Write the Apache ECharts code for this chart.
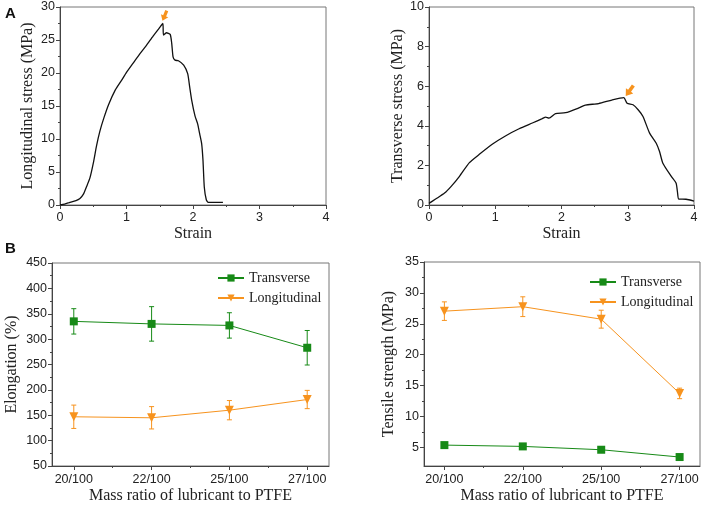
<!DOCTYPE html>
<html><head><meta charset="utf-8">
<script src="https://cdn.jsdelivr.net/npm/echarts@6/dist/echarts.min.js"></script>
<style>html,body{margin:0;padding:0;background:#fff}#c{width:703px;height:505px}</style>
</head><body><div id="c"></div>
<script>
// ---- Data ----
const longStrain = [0,0.07,0.14,0.24,0.30,0.35,0.40,0.45,0.50,0.55,0.60,0.66,0.73,0.83,0.92,1.0,1.1,1.2,1.3,1.4,1.5,1.547,1.556,1.6,1.657,1.68,1.70,1.73,1.78,1.86,1.92,1.95,1.98,2.03,2.07,2.10,2.13,2.15,2.17,2.20,2.23,2.45];
const longStress = [0,0.15,0.36,0.66,1.0,1.6,2.8,4.1,6.3,9.0,11.2,13.2,15.2,17.4,18.8,20.1,21.5,22.9,24.2,25.6,26.9,27.5,25.75,26.1,25.85,24.5,22.45,21.95,21.85,21.2,19.9,17.9,15.9,13.5,12.3,10.8,9.3,6.8,2.7,0.8,0.4,0.4];
const transStrain = [0,0.1,0.235,0.335,0.46,0.61,0.76,0.96,1.16,1.36,1.56,1.71,1.76,1.81,1.91,2.06,2.26,2.36,2.56,2.76,2.94,2.99,3.08,3.16,3.23,3.33,3.43,3.48,3.53,3.66,3.73,3.75,3.77,3.88,4.0];
const transStress = [0.08,0.3,0.6,0.94,1.45,2.14,2.56,3.08,3.5,3.85,4.14,4.36,4.44,4.39,4.62,4.66,4.9,5.05,5.12,5.3,5.42,5.14,5.06,4.8,4.47,3.63,3.12,2.7,2.11,1.43,1.1,0.67,0.3,0.29,0.2];
const longPeak = [1.54, 27.9];
const transPeak = [2.97, 5.5];

const categories = ['20/100','22/100','25/100','27/100'];
const elongTrans = [335,330,327,283];
const elongTransErr = [25,34,25,34];
const elongLong = [147,145,160,181];
const elongLongErr = [23,22,19,18];
const tensTrans = [5.38,5.17,4.63,3.45];
const tensTransErr = [0.4,0.4,0.3,0.2];
const tensLong = [27.05,27.77,25.75,13.74];
const tensLongErr = [1.5,1.6,1.45,0.85];
const tensTicks = [5,10,15,20,25,30,35];
const tensMinorTicks = [7.5,12.5,17.5,22.5,27.5,32.5];
const catTicks = [0,1,2,3];
const catMinorTicks = [0.5,1.5,2.5];

// ---- Style ----
const SANS = 'Liberation Sans', SERIF = 'Liberation Serif';
const GREEN = '#178a17', ORANGE = '#f7931e', AXIS = '#444', FRAME = '#777';
const ARROW = 'path://M3,0 L7,0 L7,6 L10,6 L5,12 L0,6 L3,6 Z';

function pairs(xs, ys){ return xs.map((x,i)=>[x, ys[i]]); }
function idx(ys){ return ys.map((y,i)=>[i, y]); }
function errData(ys, es){ return ys.map((y,i)=>[i, y-es[i], y+es[i]]); }

const baseAxisLabel = {fontFamily: SANS, fontSize: 12.5, color: '#222'};
const nameStyle = {fontFamily: SERIF, fontSize: 16, color: '#222'};
const axisLine = {show: true, onZero: false, lineStyle: {color: AXIS, width: 1}};
const noLine = {show: false, onZero: false};

function valX(gi, min, max, interval, name){
  return {type:'value', gridIndex: gi, min, max, interval, name, nameLocation:'middle', nameGap: 21, nameTextStyle: nameStyle,
    axisLine, axisTick:{show:true, inside:false, length:4, lineStyle:{color:AXIS}},
    minorTick:{show:true, splitNumber:2, length:2, lineStyle:{color:AXIS}},
    axisLabel:{...baseAxisLabel, margin:6}, splitLine:{show:false}};
}
function valY(gi, min, max, interval, name, gap){
  return {type:'value', gridIndex: gi, min, max, interval, name, nameLocation:'middle', nameGap: gap, nameTextStyle: nameStyle,
    axisLine, axisTick:{show:true, inside:false, length:4, lineStyle:{color:AXIS}},
    minorTick:{show:true, splitNumber:2, length:2, lineStyle:{color:AXIS}},
    axisLabel:{...baseAxisLabel, margin:5}, splitLine:{show:false}};
}
function catX(gi, min, max, name){
  return [{type:'value', gridIndex: gi, min, max, name, nameLocation:'middle', nameGap: 22, nameTextStyle: nameStyle,
    axisLine, axisTick:{show:true, length:4, customValues: catTicks, lineStyle:{color:AXIS}},
    axisLabel:{...baseAxisLabel, margin:7, customValues: catTicks, formatter: v => categories[Math.round(v)]},
    splitLine:{show:false}},
   {type:'value', gridIndex: gi, min, max, position:'bottom', axisLine: noLine,
    axisTick:{show:true, length:2, customValues: catMinorTicks, lineStyle:{color:AXIS}},
    axisLabel:{show:false}, splitLine:{show:false}}];
}

function errSeries(name, xi, yi, data, color){
  return {type:'custom', name, xAxisIndex: xi, yAxisIndex: yi, data, z: 1, silent: true,
    renderItem: (params, api) => {
      const lo = api.coord([api.value(0), api.value(1)]);
      const hi = api.coord([api.value(0), api.value(2)]);
      const w = 2.5;
      const st = {stroke: color, lineWidth: 1};
      return {type:'group', children:[
        {type:'line', shape:{x1:lo[0], y1:lo[1], x2:hi[0], y2:hi[1]}, style: st},
        {type:'line', shape:{x1:lo[0]-w, y1:lo[1], x2:lo[0]+w, y2:lo[1]}, style: st},
        {type:'line', shape:{x1:hi[0]-w, y1:hi[1], x2:hi[0]+w, y2:hi[1]}, style: st}
      ]};
    }};
}

const legendText = {fontFamily: SERIF, fontSize: 14, color:'#222'};

const option = {
  animation: false,
  backgroundColor: '#fff',
  grid: [
    {left: 60, top: 7, width: 266, height: 198, show: true, borderColor: FRAME, borderWidth: 1},
    {left: 429, top: 7, width: 265, height: 198, show: true, borderColor: FRAME, borderWidth: 1},
    {left: 52, top: 263, width: 277, height: 204, show: true, borderColor: FRAME, borderWidth: 1},
    {left: 424, top: 262, width: 276, height: 206, show: true, borderColor: FRAME, borderWidth: 1}
  ],
  xAxis: [
    valX(0, 0, 4, 1, 'Strain'),
    valX(1, 0, 4, 1, 'Strain'),
    ...catX(2, -0.28, 3.28, 'Mass ratio of lubricant to PTFE'),
    ...catX(3, -0.26, 3.26, 'Mass ratio of lubricant to PTFE')
  ],
  yAxis: [
    valY(0, 0, 30, 5, 'Longitudinal stress (MPa)', 24),
    valY(1, 0, 10, 2, 'Transverse stress (MPa)', 15),
    valY(2, 50, 450, 50, 'Elongation (%)', 32),
    {type:'value', gridIndex: 3, min: 2, max: 35, name:'Tensile strength (MPa)', nameLocation:'middle', nameGap: 27, nameTextStyle: nameStyle,
     axisLine, axisTick:{show:true, length:4, customValues: tensTicks, lineStyle:{color:AXIS}},
     axisLabel:{...baseAxisLabel, margin:5, customValues: tensTicks}, splitLine:{show:false}},
    {type:'value', gridIndex: 3, min: 2, max: 35, position:'left', axisLine: noLine,
     axisTick:{show:true, length:2, customValues: tensMinorTicks, lineStyle:{color:AXIS}},
     axisLabel:{show:false}, splitLine:{show:false}}
  ],
  legend: [
    {orient:'vertical', left: 212, top: 266, itemWidth: 26, itemHeight: 9, itemGap: 6,
     textStyle: legendText, data:['Transverse','Longitudinal'], selectedMode:false},
    {orient:'vertical', left: 584, top: 270, itemWidth: 26, itemHeight: 9, itemGap: 6,
     textStyle: legendText, data:['Transverse','Longitudinal'], selectedMode:false}
  ],
  series: [
    {type:'line', xAxisIndex: 0, yAxisIndex: 0, data: pairs(longStrain, longStress), showSymbol:false, smooth: 0.2,
     lineStyle:{color:'#111', width:1.3}, silent: true,
     markPoint:{silent:true, symbol: ARROW, symbolSize:[8,11], symbolRotate:-23, symbolOffset:[2.2,-5.1],
       itemStyle:{color: ORANGE}, label:{show:false}, data:[{coord: longPeak}]}},
    {type:'line', xAxisIndex: 1, yAxisIndex: 1, data: pairs(transStrain, transStress), showSymbol:false, smooth: 0.2,
     lineStyle:{color:'#111', width:1.3}, silent: true,
     markPoint:{silent:true, symbol: ARROW, symbolSize:[9,13], symbolRotate:-36, symbolOffset:[3.8,-5.3],
       itemStyle:{color: ORANGE}, label:{show:false}, data:[{coord: transPeak}]}},
    errSeries('errT1', 2, 2, errData(elongTrans, elongTransErr), GREEN),
    errSeries('errL1', 2, 2, errData(elongLong, elongLongErr), ORANGE),
    {type:'line', name:'Transverse', xAxisIndex: 2, yAxisIndex: 2, data: idx(elongTrans), symbol:'rect', symbolSize: 8,
     itemStyle:{color: GREEN}, lineStyle:{color: GREEN, width: 1}, z: 3},
    {type:'line', name:'Longitudinal', xAxisIndex: 2, yAxisIndex: 2, data: idx(elongLong), symbol:'triangle', symbolRotate: 180, symbolSize: 9,
     itemStyle:{color: ORANGE}, lineStyle:{color: ORANGE, width: 1}, z: 3},
    errSeries('errT2', 4, 3, errData(tensTrans, tensTransErr), GREEN),
    errSeries('errL2', 4, 3, errData(tensLong, tensLongErr), ORANGE),
    {type:'line', name:'Transverse', xAxisIndex: 4, yAxisIndex: 3, data: idx(tensTrans), symbol:'rect', symbolSize: 8,
     itemStyle:{color: GREEN}, lineStyle:{color: GREEN, width: 1}, z: 3},
    {type:'line', name:'Longitudinal', xAxisIndex: 4, yAxisIndex: 3, data: idx(tensLong), symbol:'triangle', symbolRotate: 180, symbolSize: 9,
     itemStyle:{color: ORANGE}, lineStyle:{color: ORANGE, width: 1}, z: 3}
  ],
  graphic: [
    {type:'text', left: 5, top: 6, style:{text:'A', fontFamily: SANS, fontWeight:'bold', fontSize: 15, fill:'#111'}},
    {type:'text', left: 5, top: 241, style:{text:'B', fontFamily: SANS, fontWeight:'bold', fontSize: 15, fill:'#111'}}
  ]
};

const chart = echarts.init(document.getElementById('c'), null, {renderer:'canvas'});
chart.setOption(option);
</script>
</body></html>
